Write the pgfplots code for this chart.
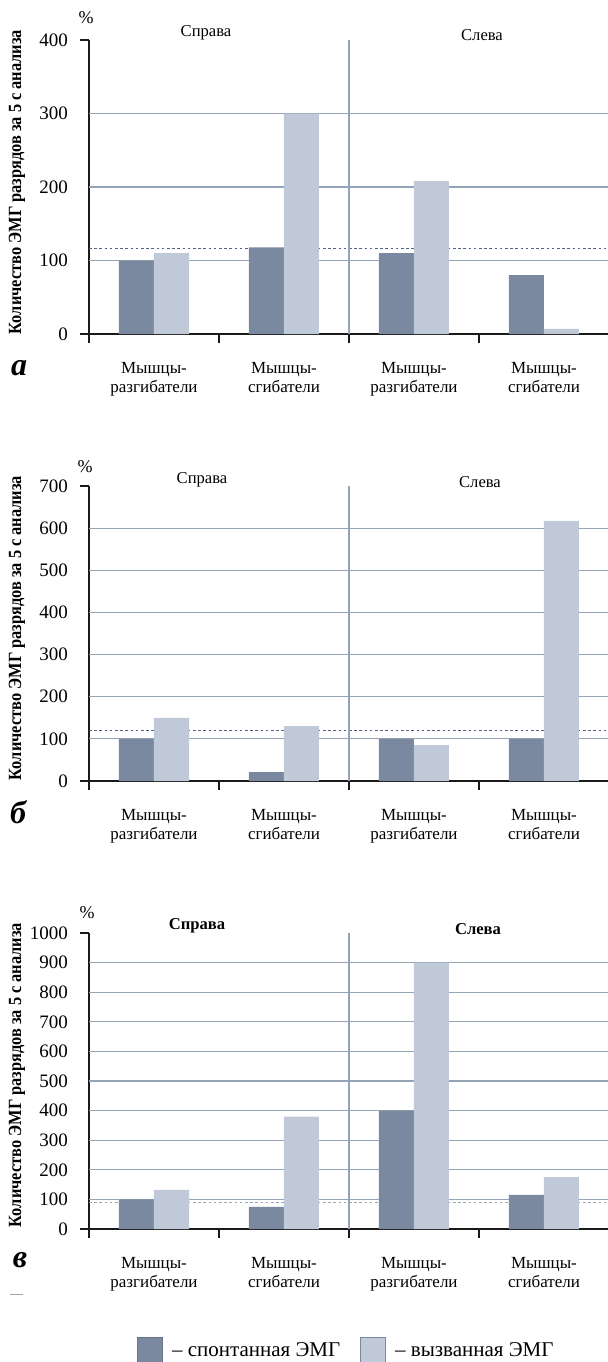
\documentclass[border=0pt]{standalone}
\usepackage{fontspec}
\setmainfont{Liberation Serif}
\newfontfamily\ylabfont[FakeStretch=0.88]{Liberation Serif}
\usepackage{pgfplots}
\pgfplotsset{compat=1.18}
\definecolor{darkbar}{HTML}{7A899F}
\definecolor{lightbar}{HTML}{C0C9D8}
\definecolor{gridcol}{HTML}{95A3B9}
\definecolor{refblue}{HTML}{4F6388}
\definecolor{reflight}{HTML}{9AA6BA}
\definecolor{axblack}{HTML}{1A1A1A}
\definecolor{bartop}{HTML}{5C6D88}

\pgfplotsset{
  panel/.style={
    scale only axis, width=260pt, xmin=0, xmax=4, ymin=0, clip=false,
    axis x line=bottom, axis y line=left,
    axis line style={-, line width=1.3pt, axblack},
    xtick={0,1,2,3,4}, xticklabels={,,,,,},
    xtick align=outside, ytick align=inside, major tick length=4.5pt,
    every x tick/.append style={line width=1.3pt, axblack},
    every y tick/.append style={draw=none},
    /pgf/number format/assume math mode=true,
    /pgf/number format/1000 sep={},
    yticklabel style={font=\fontsize{9.5}{11}\selectfont, xshift=-7pt},
    extra y tick labels={},
    extra y tick style={grid=major, major grid style={gridcol, line width=0.6pt}},
    extra x ticks={0.5,1.5,2.5,3.5},
    extra x tick labels={{Мышцы-\\разгибатели},{Мышцы-\\сгибатели},{Мышцы-\\разгибатели},{Мышцы-\\сгибатели}},
    extra x tick style={major tick length=0pt, every x tick/.append style={draw=none},
      xticklabel style={font=\fontsize{8.5}{9.5}\selectfont, align=center, yshift=-10.5pt}},
  },
  refline/.style={forget plot, sharp plot, no marks, color=refblue, line width=0.5pt, dash pattern=on 1.3pt off 1.3pt},
  sepline/.style={forget plot, sharp plot, no marks, color=gridcol, line width=0.7pt},
  darkbars/.style={ybar, bar width=17.5pt, bar shift=-8.75pt, fill=darkbar, draw=none},
  lightbars/.style={ybar, bar width=17.5pt, bar shift=8.75pt, fill=lightbar, draw=none},
}

\begin{document}
\begin{tikzpicture}
\useasboundingbox (0,0) rectangle (303.5pt,-681pt);

% ---------- panel a ----------
\begin{axis}[panel, at={(44.5pt,-167pt)}, anchor=south west, height=147pt,
  ymax=400, ytick={0,100,...,400}, extra y ticks={100,200,300}]
\addplot[refline] coordinates {(0,117) (4,117)};
\addplot[sepline] coordinates {(2,0) (2,400)};
\addplot[darkbars] coordinates {(0.5,100) (1.5,118) (2.5,110) (3.5,80)};
\addplot[lightbars] coordinates {(0.5,110) (1.5,300) (2.5,208) (3.5,7)};
\draw[line width=1.3pt, axblack] (rel axis cs:0,1) -- ++(-4.5pt,0);
\draw[line width=1.3pt, axblack] (rel axis cs:0,0) -- ++(-4.5pt,0);
\end{axis}

% ---------- panel b ----------
\begin{axis}[panel, at={(44.5pt,-390.5pt)}, anchor=south west, height=147.5pt,
  ymax=700, ytick={0,100,...,700}, extra y ticks={100,200,300,400,500,600}]
\addplot[refline] coordinates {(0,121) (4,121)};
\addplot[sepline] coordinates {(2,0) (2,700)};
\addplot[darkbars] coordinates {(0.5,100) (1.5,21) (2.5,100) (3.5,100)};
\addplot[lightbars] coordinates {(0.5,150) (1.5,130) (2.5,85) (3.5,617)};
\draw[line width=1.3pt, axblack] (rel axis cs:0,1) -- ++(-4.5pt,0);
\draw[line width=1.3pt, axblack] (rel axis cs:0,0) -- ++(-4.5pt,0);
\end{axis}

% ---------- panel c ----------
\begin{axis}[panel, at={(44.5pt,-614.5pt)}, anchor=south west, height=148pt,
  ymax=1000, ytick={0,100,...,1000}, extra y ticks={100,200,300,400,500,600,700,800,900},
  legend style={at={(0.497,-0.41)}, anchor=center, draw=none, fill=none,
    legend columns=2, font=\fontsize{10.5}{12}\selectfont,
    /tikz/every even column/.append style={column sep=8pt}},
  legend cell align=left]
\addplot[refline, color=reflight] coordinates {(0,88) (4,88)};
\addplot[sepline] coordinates {(2,0) (2,1000)};
\addplot[darkbars, legend image code/.code={\filldraw[fill=darkbar, draw=darkbar!85!black, line width=0.4pt] (0pt,-6pt) rectangle (12.5pt,6.5pt);}]
  coordinates {(0.5,100) (1.5,75) (2.5,400) (3.5,115)};
\addlegendentry{\hspace{2.5pt}– спонтанная ЭМГ}
\addplot[lightbars, legend image code/.code={\filldraw[fill=lightbar, draw=darkbar, line width=0.4pt] (0pt,-6pt) rectangle (12.5pt,6.5pt);}]
  coordinates {(0.5,132) (1.5,380) (2.5,900) (3.5,175)};
\addlegendentry{\hspace{2.5pt}– вызванная ЭМГ}
\draw[line width=1.3pt, axblack] (rel axis cs:0,1) -- ++(-4.5pt,0);
\draw[line width=1.3pt, axblack] (rel axis cs:0,0) -- ++(-4.5pt,0);
\end{axis}

% ---------- texts ----------
\node[rotate=90, font=\ylabfont\bfseries\fontsize{9.3}{10}\selectfont] at (8.5pt,-91pt) {Количество ЭМГ разрядов за 5 с анализа};
\node[rotate=90, font=\ylabfont\bfseries\fontsize{9.3}{10}\selectfont] at (8.5pt,-314pt) {Количество ЭМГ разрядов за 5 с анализа};
\node[rotate=90, font=\ylabfont\bfseries\fontsize{9.3}{10}\selectfont] at (8.5pt,-537.5pt) {Количество ЭМГ разрядов за 5 с анализа};

\node[font=\fontsize{9}{10}\selectfont] at (43pt,-9pt) {\%};
\node[font=\fontsize{9}{10}\selectfont] at (42.5pt,-233.5pt) {\%};
\node[font=\fontsize{9}{10}\selectfont] at (43.5pt,-456.5pt) {\%};

\node[font=\fontsize{8.3}{9}\selectfont] at (103pt,-16.5pt) {Справа};
\node[font=\fontsize{8.3}{9}\selectfont] at (241pt,-17.5pt) {Слева};
\node[font=\fontsize{8.3}{9}\selectfont] at (101pt,-240pt) {Справа};
\node[font=\fontsize{8.3}{9}\selectfont] at (240pt,-241pt) {Слева};
\node[font=\bfseries\fontsize{8.3}{9}\selectfont] at (98.5pt,-463pt) {Справа};
\node[font=\bfseries\fontsize{8.3}{9}\selectfont] at (239pt,-464.5pt) {Слева};

\node[font=\bfseries\itshape\fontsize{16}{18}\selectfont] at (9.5pt,-184pt) {а};
\node[font=\bfseries\itshape\fontsize{16}{18}\selectfont] at (9pt,-406pt) {б};
\node[font=\bfseries\itshape\fontsize{16}{18}\selectfont] at (10pt,-630pt) {в};
\draw[gray!70, line width=0.4pt] (5pt,-647pt) -- (11.5pt,-647pt);
\end{tikzpicture}
\end{document}
